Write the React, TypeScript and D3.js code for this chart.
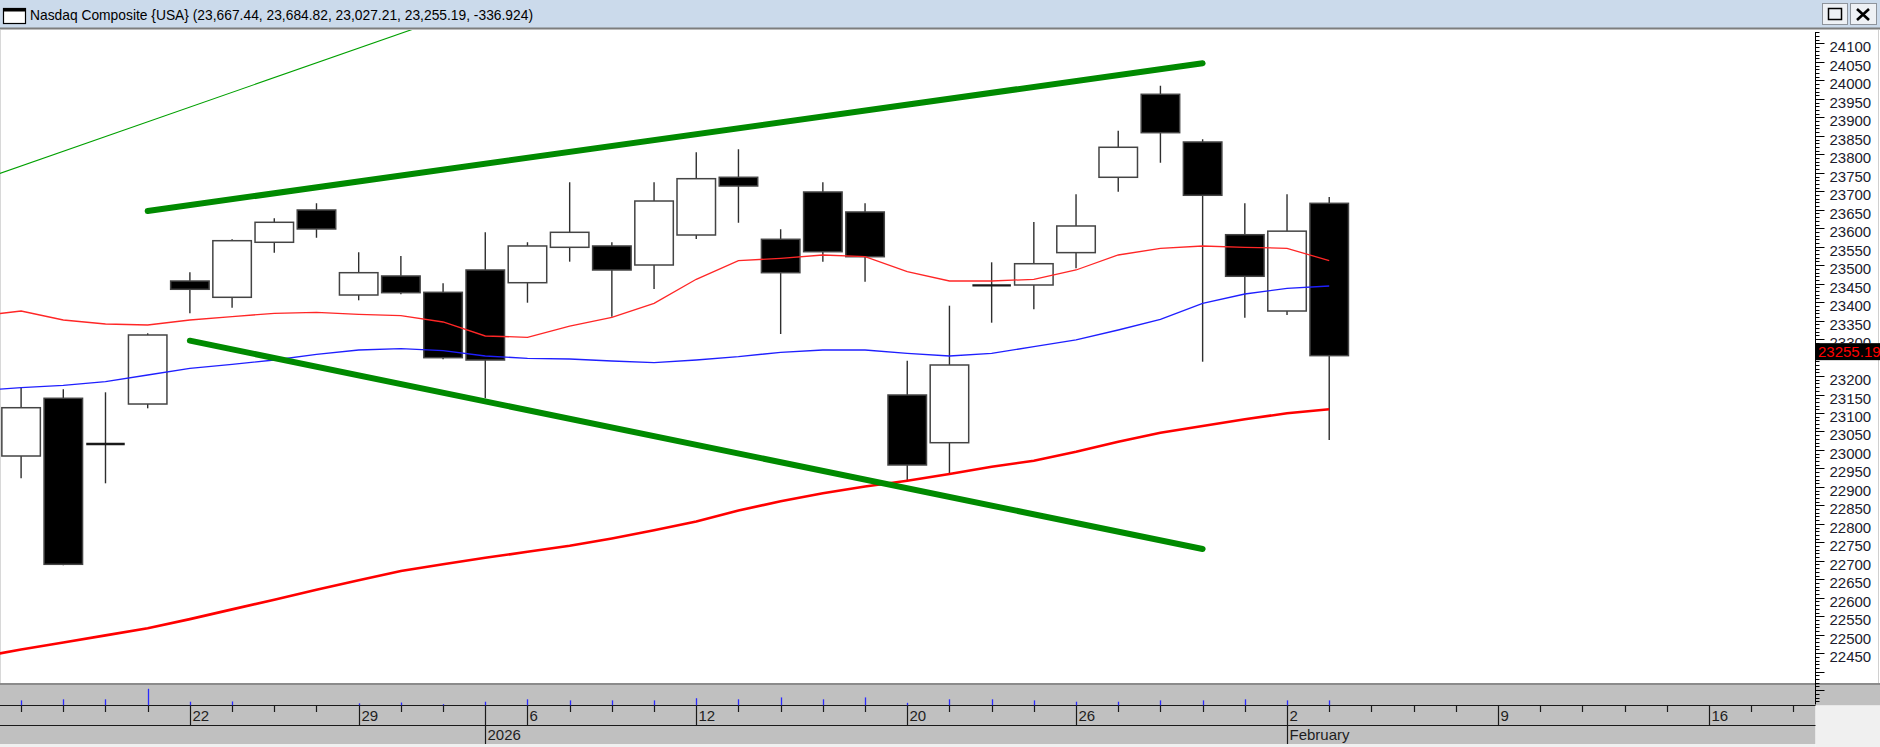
import React, { useEffect } from 'react';
import * as d3 from 'd3';

// trading sessions on the date axis; the first one (Dec 15) sits just off the left edge
const axisDates = [
  '2025-12-15', '2025-12-16', '2025-12-17', '2025-12-18', '2025-12-19',
  '2025-12-22', '2025-12-23', '2025-12-24', '2025-12-26',
  '2025-12-29', '2025-12-30', '2025-12-31', '2026-01-02',
  '2026-01-06', '2026-01-07', '2026-01-08', '2026-01-09',
  '2026-01-12', '2026-01-13', '2026-01-14', '2026-01-15', '2026-01-16',
  '2026-01-20', '2026-01-21', '2026-01-22', '2026-01-23',
  '2026-01-26', '2026-01-27', '2026-01-28', '2026-01-29', '2026-01-30',
  '2026-02-02', '2026-02-03',
  '2026-02-04', '2026-02-05', '2026-02-06',
  '2026-02-09', '2026-02-10', '2026-02-11', '2026-02-12', '2026-02-13',
  '2026-02-16', '2026-02-17', '2026-02-18',
];

// OHLC, Dec 16 .. Feb 3
const opens = [
  22983.6, 23139.8, 23017.0, 23124.3, 23457.2, 23413.1, 23562.0, 23649.4,
  23419.3, 23470.8, 23426.6, 23487.0, 23452.6, 23548.4, 23552.0, 23500.5,
  23581.7, 23737.9, 23570.1, 23698.1, 23644.0, 23148.7, 23019.6, 23446.0,
  23446.4, 23534.0, 23737.9, 23962.5, 23833.4, 23582.5, 23376.0, 23667.44,
];
const highs = [
  23168.5, 23164.1, 23156.0, 23315.7, 23480.8, 23570.1, 23626.9, 23667.5,
  23534.9, 23524.9, 23451.0, 23589.0, 23562.0, 23724.4, 23562.0, 23724.4,
  23805.5, 23813.7, 23597.2, 23724.4, 23667.5, 23241.5, 23390.4, 23507.8,
  23616.9, 23691.9, 23864.0, 23985.8, 23840.7, 23667.5, 23691.9, 23684.82,
];
const lows = [
  22923.3, 22688.0, 22909.7, 23112.7, 23369.8, 23385.0, 23533.8, 23574.4,
  23405.0, 23421.2, 23245.3, 23139.8, 23398.5, 23509.5, 23360.6, 23435.6,
  23570.9, 23615.0, 23313.8, 23509.5, 23455.3, 22918.7, 22934.9, 23344.4,
  23380.6, 23491.6, 23698.9, 23777.4, 23238.8, 23357.9, 23365.2, 23027.21,
];
const closes = [
  23114.3, 22690.5, 23015.3, 23311.1, 23434.8, 23566.3, 23616.1, 23598.0,
  23479.7, 23425.6, 23249.7, 23243.4, 23552.0, 23589.0, 23487.0, 23673.7,
  23734.1, 23714.3, 23479.7, 23536.5, 23523.0, 22959.3, 23229.9, 23444.5,
  23504.0, 23606.1, 23819.1, 23858.6, 23689.2, 23470.0, 23592.114, 23255.19,
];
// volume (billions of shares), shown as the small blue marks in the date strip
const volumes = [
  8.9, 9.3, 9.3, 13.2, 8.4, 8.5, 6.0, 6.4, 7.8, 8.1, 7.5, 8.4, 9.3, 8.9, 8.9, 8.9,
  9.7, 9.3, 10.0, 9.3, 10.0, 8.0, 9.3, 9.3, 8.9, 8.4, 8.4, 8.9, 8.9, 9.3, 8.9, 8.9,
];

// moving averages, Dec 15 .. Feb 3
const maFast = [
  23362.5, 23376.0, 23351.7, 23340.9, 23338.1, 23351.7, 23360.6, 23369.8, 23372.5,
  23367.1, 23363.3, 23346.3, 23308.4, 23304.9, 23335.4, 23359.0, 23396.9, 23461.8,
  23512.2, 23518.7, 23527.6, 23523.0, 23482.4, 23457.2, 23457.2, 23461.8, 23487.0,
  23527.6, 23545.7, 23552.0, 23548.4, 23545.7, 23512.2,
];
const maMid = [
  23160.9, 23168.5, 23175.0, 23184.7, 23202.8, 23221.0, 23231.8, 23243.4, 23258.9,
  23270.5, 23274.0, 23268.6, 23254.2, 23248.0, 23246.1, 23240.7, 23236.1, 23243.4,
  23252.4, 23264.3, 23270.5, 23270.5, 23261.6, 23254.2, 23261.6, 23279.4, 23297.6,
  23324.6, 23353.6, 23396.9, 23422.0, 23437.5, 23443.7,
];
const maSlow = [
  22439.6, 22459.7, 22479.1, 22498.1, 22517.3, 22542.2, 22568.5, 22594.7, 22621.8,
  22647.2, 22672.6, 22690.8, 22708.1, 22724.3, 22740.8, 22760.6, 22782.8, 22806.6,
  22836.1, 22861.0, 22882.7, 22901.1, 22916.8, 22934.9, 22954.6, 22970.9, 22995.2,
  23022.3, 23046.7, 23064.8, 23082.9, 23099.2, 23110.0,
];

// trendlines: [date, price] anchors
const upperTrend = [['2025-12-19', 23646.7], ['2026-01-29', 24046.4]];
const lowerTrend = [['2025-12-22', 23295.7], ['2026-01-29', 22731.9]];
const longTrend = [['2025-12-16', 23768.5], ['2025-12-30', 24127.3]];

const priceTicks = { from: 22300, to: 24140, minor: 10, major: 50 };

const W = 1880;
const H = 747;
const PLOT_TOP = 30;
const PLOT_BOTTOM = 681;
const AXIS_X = 1815.5;
const STRIP_TOP = 683;
const ROW1 = 705.5;
const ROW2 = 725.5;
const STRIP_BOTTOM = 744;
const FONT = '"Liberation Sans", Arial, sans-serif';

export default function App() {
  useEffect(() => {
    document.body.style.margin = '0';
  }, []);

  const parse = d3.utcParse('%Y-%m-%d');
  const dates = axisDates.map(d => parse(d) as Date);
  const idxOf = (s: string) => axisDates.indexOf(s);

  const x = d3.scaleLinear().domain([1, 41]).range([21.1, 1709]);
  const y = d3.scaleLinear().domain([22374.7, 24136.5]).range([PLOT_BOTTOM, PLOT_TOP]);
  const volH = d3.scaleLinear().domain([7.0, 13.2]).range([0, 16.7]).clamp(true);

  const bodyW = 38.5;
  const candles = opens.map((o, k) => ({
    i: k + 1, o, h: highs[k], l: lows[k], c: closes[k],
  }));

  const maLine = d3.line<number>().x((_, k) => x(k)).y(v => y(v));

  const trendPath = (pts: (string | number)[][], extend = false) => {
    const i0 = idxOf(pts[0][0] as string);
    const i1 = idxOf(pts[1][0] as string);
    const p = d3.scaleLinear().domain([i0, i1]).range([pts[0][1] as number, pts[1][1] as number]);
    const a = extend ? -1 : i0;
    const b = extend ? 14 : i1;
    return d3.line<number>().x(i => x(i)).y(i => y(p(i)))([a, b]);
  };

  // price axis ticks
  const tickVals = d3.range(priceTicks.from, priceTicks.to + 1, priceTicks.minor)
    .filter(v => y(v) > PLOT_TOP + 1 && y(v) < ROW1 - 1);
  const fmt = d3.format(',.2f');
  const last = closes[closes.length - 1];
  const change = last - closes[closes.length - 2];
  const title = `Nasdaq Composite {USA} (${fmt(opens[opens.length - 1])}, ${fmt(highs[highs.length - 1])}, ${fmt(lows[lows.length - 1])}, ${fmt(last)}, ${change.toFixed(3)})`;

  // date strip marks
  const dayMarks = dates.map((d, i) => {
    const prev = i > 0 ? dates[i - 1] : null;
    const newWeek = prev && +d3.utcMonday.floor(d) !== +d3.utcMonday.floor(prev);
    const newYear = prev && d.getUTCFullYear() !== prev.getUTCFullYear();
    const newMonth = prev && d.getUTCMonth() !== prev.getUTCMonth();
    return {
      i, d,
      dayLabel: newWeek ? String(d.getUTCDate()) : null,
      bigLabel: newYear ? String(d.getUTCFullYear()) : newMonth ? d3.utcFormat('%B')(d) : null,
    };
  }).filter(m => m.i > 0);

  const tagY = y(last) - 12.5;

  return (
    <div style={{ position: 'fixed', left: 0, top: 0 }}>
      <svg width={W} height={H} style={{ display: 'block', background: '#ffffff' }}>
        <defs>
          <clipPath id="plotClip">
            <rect x={0} y={PLOT_TOP} width={AXIS_X} height={PLOT_BOTTOM - PLOT_TOP} />
          </clipPath>
        </defs>

        {/* title bar */}
        <rect x={0} y={0} width={W} height={28} fill="#cbdaeb" />
        <line x1={0} x2={W} y1={28.5} y2={28.5} stroke="#7d7d7d" strokeWidth={2} />
        <rect x={3.5} y={8.5} width={22} height={15} fill="#ffffff" stroke="#000" strokeWidth={1.2} />
        <rect x={3.5} y={8.5} width={22} height={3} fill="#000" />
        <text x={30} y={19.5} fontFamily={FONT} fontSize={14.5} fill="#000"
          textLength={503} lengthAdjust="spacingAndGlyphs">{title}</text>
        <rect x={1822.5} y={3.5} width={25} height={21} fill="#eef1f5" stroke="#8e949c" />
        <rect x={1828.5} y={8.5} width={13} height={11} fill="none" stroke="#000" strokeWidth={1.5} />
        <rect x={1850.5} y={3.5} width={26} height={21} fill="#eef1f5" stroke="#8e949c" />
        <path d="M1857,9 L1869,20 M1869,9 L1857,20" stroke="#000" strokeWidth={2.6} />

        {/* plot frame */}
        <line x1={0.5} x2={0.5} y1={PLOT_TOP} y2={STRIP_TOP} stroke="#d8d8d8" />
        <line x1={1878.5} x2={1878.5} y1={PLOT_TOP} y2={STRIP_TOP} stroke="#d0d0d0" />

        <g clipPath="url(#plotClip)">
          {/* candles */}
          {candles.map(cd => {
            const cx = x(cd.i);
            const top = y(Math.max(cd.o, cd.c));
            const bot = y(Math.min(cd.o, cd.c));
            const up = cd.c >= cd.o;
            const doji = bot - top < 2;
            return (
              <g key={cd.i}>
                <line x1={cx} x2={cx} y1={y(cd.h)} y2={y(cd.l)} stroke="#2e2e2e" strokeWidth={1.4} />
                {doji ? (
                  <line x1={cx - bodyW / 2} x2={cx + bodyW / 2} y1={(top + bot) / 2} y2={(top + bot) / 2}
                    stroke="#1a1a1a" strokeWidth={2.4} />
                ) : (
                  <rect x={cx - bodyW / 2} y={top} width={bodyW} height={bot - top}
                    fill={up ? '#ffffff' : '#000000'} stroke="#444" strokeWidth={1.5} />
                )}
              </g>
            );
          })}

          {/* moving averages */}
          <path d={maLine(maSlow) ?? ''} fill="none" stroke="#ff0000" strokeWidth={2.6} />
          <path d={maLine(maMid) ?? ''} fill="none" stroke="#1f1fff" strokeWidth={1.3} />
          <path d={maLine(maFast) ?? ''} fill="none" stroke="#ff2626" strokeWidth={1.3} />

          {/* trendlines */}
          <path d={trendPath(longTrend, true) ?? ''} stroke="#00a000" strokeWidth={1.1} fill="none" />
          <path d={trendPath(upperTrend) ?? ''} stroke="#008a00" strokeWidth={6} strokeLinecap="round" fill="none" />
          <path d={trendPath(lowerTrend) ?? ''} stroke="#008a00" strokeWidth={6} strokeLinecap="round" fill="none" />
        </g>

        {/* date strip */}
        <rect x={0} y={STRIP_TOP} width={W} height={ROW1 - STRIP_TOP} fill="#c0c0c0" />
        <rect x={0} y={ROW1} width={AXIS_X} height={STRIP_BOTTOM - ROW1} fill="#c0c0c0" />
        <rect x={AXIS_X} y={ROW1} width={W - AXIS_X} height={H - ROW1} fill="#f0f0f0" />
        <rect x={0} y={STRIP_BOTTOM} width={AXIS_X} height={H - STRIP_BOTTOM} fill="#f0f0f0" />
        <line x1={0} x2={W} y1={STRIP_TOP + 1} y2={STRIP_TOP + 1} stroke="#7a7a7a" strokeWidth={1.5} />
        <line x1={0} x2={AXIS_X} y1={ROW1} y2={ROW1} stroke="#1a1a1a" />
        <line x1={0} x2={AXIS_X} y1={ROW2} y2={ROW2} stroke="#1a1a1a" />
        {candles.map((cd, k) => {
          const h = volH(volumes[k]);
          return h > 0.5 ? (
            <line key={`v${cd.i}`} x1={Math.round(x(cd.i)) + 0.5} x2={Math.round(x(cd.i)) + 0.5}
              y1={ROW1} y2={ROW1 - h} stroke="#2a2aff" strokeWidth={1.3} />
          ) : null;
        })}
        {dayMarks.filter(m => x(m.i) < AXIS_X - 5).map(m => {
          const px = Math.round(x(m.i)) + 0.5;
          const yEnd = m.bigLabel ? STRIP_BOTTOM : m.dayLabel ? ROW2 : ROW1 + 6.5;
          return (
            <g key={`d${m.i}`}>
              <line x1={px} x2={px} y1={ROW1} y2={yEnd} stroke="#1a1a1a" strokeWidth={1.2} />
              {m.dayLabel && (
                <text x={px + 2} y={721} fontFamily={FONT} fontSize={15} fill="#1e1e1e">{m.dayLabel}</text>
              )}
              {m.bigLabel && (
                <text x={px + 2} y={740} fontFamily={FONT} fontSize={15} fill="#1e1e1e">{m.bigLabel}</text>
              )}
            </g>
          );
        })}

        {/* price axis */}
        <line x1={AXIS_X} x2={AXIS_X} y1={PLOT_TOP + 2} y2={ROW1 - 1} stroke="#000" />
        {tickVals.map(v => {
          const major = v % priceTicks.major === 0;
          const ty = Math.round(y(v)) + 0.5;
          // labels hidden beneath the last-price tag are not drawn, as the tag covers them
          const underTag = ty + 8 > tagY + 2 && ty - 3 < tagY + 17;
          return (
            <g key={`t${v}`}>
              <line x1={AXIS_X} x2={AXIS_X + (major ? 9 : 4)} y1={ty} y2={ty} stroke="#000" />
              {major && y(v) > 36 && y(v) < 665 && !underTag && (
                <text x={1829.5} y={ty + 8} fontFamily={FONT} fontSize={15} fill="#1b1b2c">{v}</text>
              )}
              {major && underTag && (
                <text x={1829.5} y={ty + 8} fontFamily={FONT} fontSize={15} fill="#1b1b2c"
                  clipPath="url(#aboveTag)">{v}</text>
              )}
            </g>
          );
        })}
        <clipPath id="aboveTag">
          <rect x={1816} y={0} width={64} height={tagY} />
        </clipPath>

        {/* last price tag */}
        <rect x={1816} y={tagY} width={64} height={17} fill="#000" />
        <text x={1818} y={y(last) + 1.5} fontFamily={FONT} fontSize={15} fill="#ff0000">{last.toFixed(2)}</text>
      </svg>
    </div>
  );
}
